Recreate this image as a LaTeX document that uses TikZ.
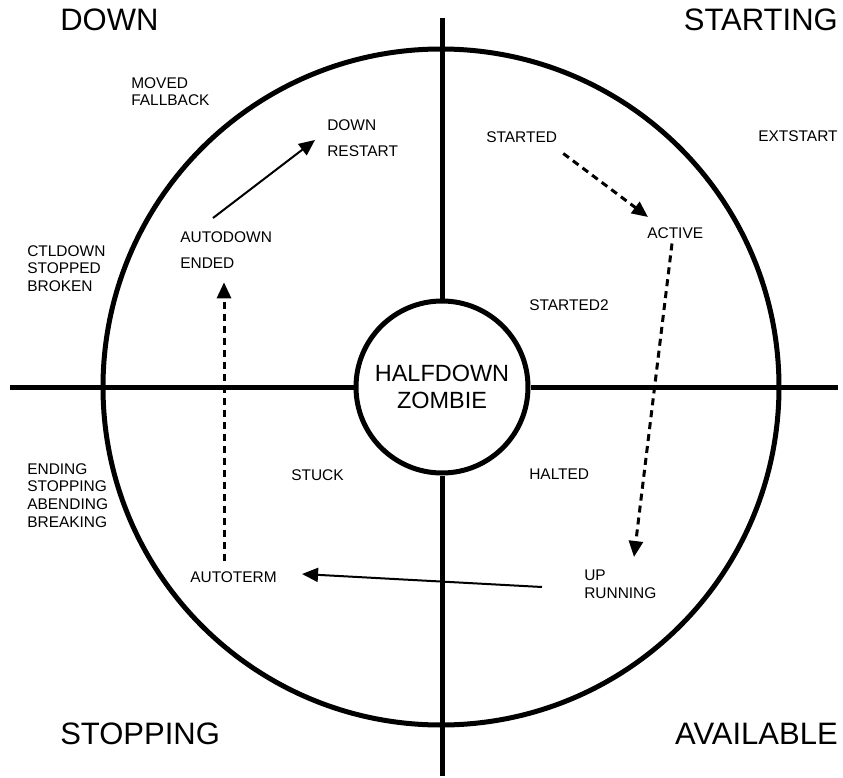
\documentclass[tikz,border=0pt]{standalone}
\usepackage{fontspec}
\setmainfont{Liberation Sans}
\usetikzlibrary{arrows.meta,calc}

\begin{document}
\begin{tikzpicture}[x=0.75pt,y=0.75pt,yscale=-1,xscale=1,
  crossline/.style={line width=3.75pt},
  statename/.style={anchor=north west,inner sep=0pt,align=left,font=\fontsize{11.6}{13.4}\selectfont},
  widespaced/.style={font=\fontsize{11.6}{19.5}\selectfont},
  quadrant/.style={inner sep=0pt,font=\fontsize{23.25}{28}\selectfont},
  solidarrow/.style={line width=1.5pt,-{Triangle[length=12pt,width=10.5pt]}},
  dasharrow/.style={line width=2.25pt,dash pattern=on 5.25pt off 3.75pt,-{Triangle[length=12pt,width=10.5pt]}}]
%set diagram left start at 0, and has height of 778
\useasboundingbox (0,0) rectangle (843,778);

%Shape: Circle [outer ring]
\draw [crossline] (441,387) circle [radius=338];
%Shape: Circle [core]
\node [circle, draw, crossline, fill=white, minimum size=129pt, inner sep=0pt, align=center, font=\fontsize{17.6}{20.25}\selectfont] (core) at (442,387) {HALFDOWN\\ZOMBIE};

%Straight Lines [cross]
\coordinate (topend) at (442,18);
\coordinate (bottomend) at (442,776);
\coordinate (leftend) at (10,387);
\coordinate (rightend) at (838,387);
\draw [crossline] (core.north) -- (topend);
\draw [crossline] (core.south) -- (bottomend);
\draw [crossline] (core.west) -- (leftend);
\draw [crossline] (core.east) -- (rightend);

% Text Node
\node [quadrant, anchor=north west] (down) at (60,9) {DOWN};
% Text Node
\node [quadrant, anchor=north east] (starting) at (838,9) {STARTING};
% Text Node
\node [quadrant, anchor=north west] (stopping) at (60,723) {STOPPING};
% Text Node
\node [quadrant, anchor=north east] (available) at (838,723) {AVAILABLE};

% Text Node
\node [statename] (moved) at (131,77) {MOVED\\FALLBACK};
% Text Node
\node [statename] (ctldown) at (27,245) {CTLDOWN\\STOPPED\\BROKEN};
% Text Node
\node [statename] (ending) at (27,463) {ENDING\\STOPPING\\ABENDING\\BREAKING};
% Text Node
\node [statename, widespaced] (restart) at (327,119) {DOWN\\RESTART};
% Text Node
\node [statename, widespaced] (autodown) at (180,231) {AUTODOWN\\ENDED};
% Text Node
\node [statename] (started) at (486,131) {STARTED};
% Text Node
\node [statename] (extstart) at (758,130) {EXTSTART};
% Text Node
\node [statename] (active) at (647,227) {ACTIVE};
% Text Node
\node [statename] (started2) at (529,299) {STARTED2};
% Text Node
\node [statename] (stuck) at (291,469) {STUCK};
% Text Node
\node [statename] (halted) at (529,469) {HALTED};
% Text Node
\node [statename] (autoterm) at (190,571) {AUTOTERM};
% Text Node
\node [statename] (uprunning) at (584,570) {UP\\RUNNING};

%Straight Lines [arrows]
\draw [solidarrow] ($(autodown.north west)+(33,-13)$) -- ($(restart.north west)+(-12,21)$);
\draw [dasharrow] ($(started.south east)+(6,11)$) -- ($(active.north west)+(1,-10)$);
\draw [dasharrow] ($(active.south west)+(25,5)$) -- ($(uprunning.north west)+(50,-13)$);
\draw [solidarrow] ($(uprunning.north west)+(-42,17)$) -- ($(autoterm.north east)+(25,3)$);
\draw [dasharrow] ($(autoterm.north west)+(34,-10)$) -- ($(autodown.south west)+(44,14)$);

\end{tikzpicture}
\end{document}
